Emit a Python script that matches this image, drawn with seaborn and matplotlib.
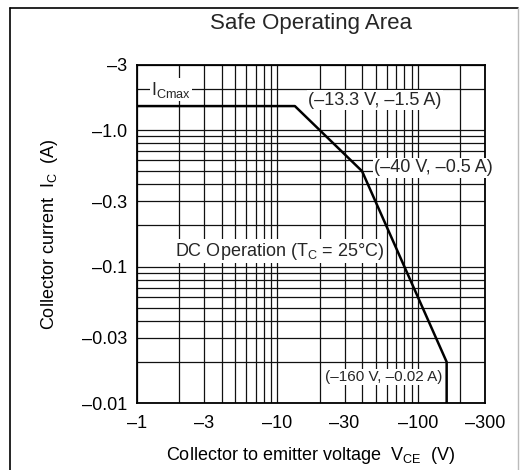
import pandas as pd
import seaborn as sns
import matplotlib.pyplot as plt
import matplotlib.ticker as ticker
from matplotlib.lines import Line2D

# SOA boundary (magnitudes: V in volts, I in amps; the chart shows them negative)
vce = [1, 13.3, 40, 160, 160]
ic = [1.5, 1.5, 0.5, 0.02, 0.01]

xticks = [1, 3, 10, 30, 100, 300]
xlabels = ["–1", "–3", "–10", "–30", "–100", "–300"]
yticks = [0.01, 0.03, 0.1, 0.3, 1.0, 3]
ylabels = ["–0.01", "–0.03", "–0.1", "–0.3", "–1.0", "–3"]

sns.set_theme(style="white")
plt.rcParams["font.family"] = ["Liberation Sans", "DejaVu Sans"]
plt.rcParams["mathtext.fontset"] = "custom"
plt.rcParams["mathtext.rm"] = "Liberation Sans"

df = pd.DataFrame({"V": vce, "I": ic})

fig = plt.figure(figsize=(5.2, 4.7), dpi=100)
ax = fig.add_axes([137 / 520, 1 - 403 / 470, 348 / 520, 338 / 470])

sns.lineplot(data=df, x="V", y="I", sort=False, estimator=None, color="black",
             lw=1.8, ax=ax, zorder=3)

ax.set_xscale("log")
ax.set_yscale("log")
ax.set_xlim(1, 300)
ax.set_ylim(0.01, 3)

ax.xaxis.set_major_locator(ticker.FixedLocator(xticks))
ax.xaxis.set_major_formatter(ticker.FixedFormatter(xlabels))
ax.yaxis.set_major_locator(ticker.FixedLocator(yticks))
ax.yaxis.set_major_formatter(ticker.FixedFormatter(ylabels))
ax.xaxis.set_minor_locator(ticker.LogLocator(base=10, subs=range(1, 10), numticks=20))
ax.yaxis.set_minor_locator(ticker.LogLocator(base=10, subs=range(1, 10), numticks=20))
ax.xaxis.set_minor_formatter(ticker.NullFormatter())
ax.yaxis.set_minor_formatter(ticker.NullFormatter())
ax.tick_params(which="both", length=0, labelsize=13, colors="black")
ax.tick_params(axis="x", pad=9)
ax.tick_params(axis="y", pad=7)

ax.grid(True, which="both", color="#111111", lw=0.9)
for s in ax.spines.values():
    s.set_color("black")
    s.set_linewidth(1.3)

ax.set_xlabel(r"Collector to emitter voltage  $\mathregular{V_{CE}}$  (V)", fontsize=13, labelpad=9, color="black")
ax.set_ylabel(r"Collector current  $\mathregular{I_C}$  (A)", fontsize=13, labelpad=16, color="black")
fig.text(311 / 520, 1 - 24 / 470, "Safe Operating Area", fontsize=16, ha="center", va="center")

box = dict(facecolor="white", edgecolor="none", pad=1)
ax.text(1.26, 1.97, r"$\mathregular{I_{Cmax}}$", fontsize=13, ha="left", va="center", bbox=box, zorder=4)
ax.text(16.5, 1.65, "(–13.3 V, –1.5 A)", fontsize=13, ha="left", va="center", bbox=box, zorder=4)
ax.text(49, 0.53, "(–40 V, –0.5 A)", fontsize=13, ha="left", va="center", bbox=box, zorder=4, clip_on=False)
ax.text(1.86, 0.13, r"DC Operation ($\mathregular{T_C}$ = 25°C)", fontsize=13, ha="left", va="center", bbox=box, zorder=4)
ax.text(21.8, 0.0155, "(–160 V, –0.02 A)", fontsize=11, ha="left", va="center", bbox=box, zorder=4)

# outer frame
fig.add_artist(Line2D([10 / 520, 10 / 520], [0, 1 - 8 / 470], color="black", lw=1.2))
fig.add_artist(Line2D([10 / 520, 518 / 520], [1 - 8 / 470, 1 - 8 / 470], color="black", lw=1.2))
fig.add_artist(Line2D([518 / 520, 518 / 520], [0, 1 - 8 / 470], color="#bbbbbb", lw=1))

fig.savefig("out.png", dpi=100)
